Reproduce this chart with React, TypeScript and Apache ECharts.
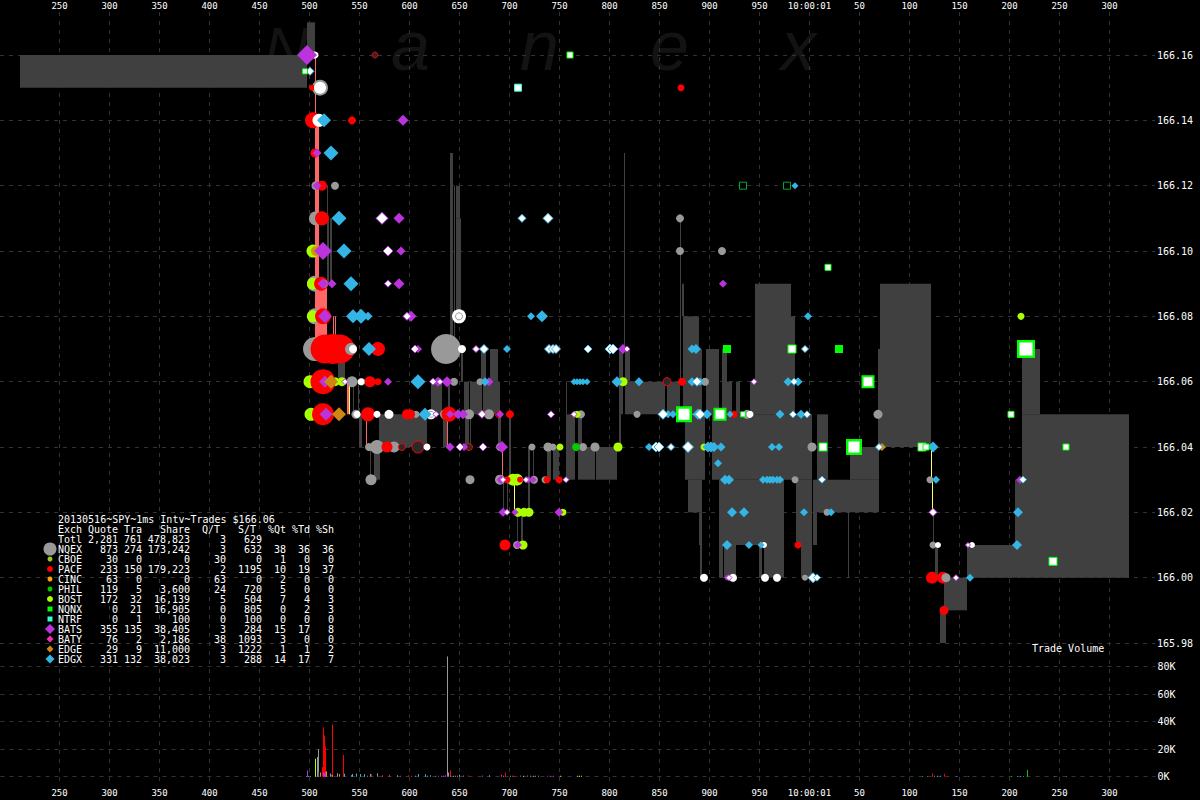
import React, { useEffect, useRef } from "react";
import * as echarts from "echarts";

const MONO = '"DejaVu Sans Mono", monospace';
const C = { nqex: "#999999", pacf: "#ff0000", bost: "#aaff00", phil: "#00cc00", cinc: "#cc9900", bats: "#bb33dd", baty: "#ee33aa", edge: "#cc8811", edgx: "#33b5e5", nqnx: "#00ff00", ntrf: "#33ffcc", spread: "#404040", crossed: "#ff6666", locked: "#ffff66" };

// ---- table
const tableTitle = "20130516~SPY~1ms Intv~Trades $166.06";
const headerLabels = ["Exch", "Quote", "Tra", "Share", "Q/T", "S/T", "%Qt", "%Td", "%Sh"];
const totalRow = ["Totl", "2,281", "761", "478,823", "3", "629"];
const exchanges = ["NQEX", "CBOE", "PACF", "CINC", "PHIL", "BOST", "NQNX", "NTRF", "BATS", "BATY", "EDGE", "EDGX"];
const quotes = ["873", "30", "233", "63", "119", "172", "0", "0", "355", "76", "29", "331"];
const trades = ["274", "0", "150", "0", "5", "32", "21", "1", "135", "2", "9", "132"];
const shares = ["173,242", "0", "179,223", "0", "3,600", "16,139", "16,905", "100", "38,405", "2,186", "11,000", "38,023"];
const quoteTrade = ["3", "30", "2", "63", "24", "5", "0", "0", "3", "38", "3", "3"];
const sharesTrade = ["632", "0", "1195", "0", "720", "504", "805", "100", "284", "1093", "1222", "288"];
const pctQuotes = ["38", "1", "10", "2", "5", "7", "0", "0", "15", "3", "1", "14"];
const pctTrades = ["36", "0", "19", "0", "0", "4", "2", "0", "17", "0", "1", "17"];
const pctShares = ["36", "0", "37", "0", "0", "3", "3", "0", "8", "0", "2", "7"];

// ---- spread boxes: [start ms, end ms, low, high]
const spreadBoxes = [
  [210,497,166.15,166.16],[497,505,166.16,166.17],[517,518,166.11,166.12],[517,519,166.09,166.11],[520,522,166.09,166.11],
  [528,535,166.06,166.07],[543,544,166.05,166.06],[548,549,166.05,166.06],[549,552,166.04,166.05],[564,570,166.03,166.04],
  [560,561,166.03,166.04],[569,617,166.04,166.05],[621,632,166.05,166.06],[633,637,166.04,166.05],[638,640,166.05,166.06],
  [640,643,166.07,166.13],[644,645,166.07,166.12],[646,650,166.11,166.12],[646,651,166.08,166.11],[651,653,166.06,166.07],
  [654,659,166.05,166.06],[660,672,166.05,166.06],[673,690,166.05,166.06],[671,676,166.06,166.07],[680,688,166.06,166.07],
  [655,659,166.04,166.05],[660,661,166.04,166.05],[688,691,166.04,166.05],[699,701,166.03,166.05],[693,694,166.02,166.03],
  [697,698,166.02,166.03],[707,708,166.01,166.02],[711,713,166.01,166.02],[718,720,166.02,166.04],[723,724,166.03,166.04],
  [737,741,166.03,166.04],[743,749,166.03,166.04],[756,757,166.05,166.06],[756,765,166.03,166.05],[768,772,166.04,166.05],
  [768,780,166.03,166.04],[780,785,166.03,166.04],[786,807,166.03,166.04],[809,813,166.06,166.07],[815,820,166.06,166.07],
  [809,813,166.05,166.06],[815,855,166.05,166.06],[857,870,166.05,166.06],[809,811,166.04,166.05],[814,815,166.07,166.13],
  [870,871,166.06,166.11],[872,874,166.08,166.09],[873,889,166.07,166.08],[873,892,166.05,166.07],[896,909,166.05,166.07],
  [912,917,166.05,166.07],[917,922,166.05,166.06],[926,930,166.05,166.06],[940,945,166.05,166.06],[945,981,166.05,166.09],
  [981,985,166.05,166.08],[902,1002,166.03,166.05],[875,895,166.03,166.05],[878,892,166.02,166.03],[889,892,166.01,166.02],
  [890,892,166.00,166.01],[909,974,166.01,166.03],[909,913,166.00,166.01],[914,926,166.00,166.01],[949,952,166.00,166.01],
  [954,974,166.00,166.01],[986,1002,166.01,166.03],[991,1002,166.00,166.01],[1003,1007,166.01,166.03],[1007,1018,166.03,166.05],
  [1007,1069,166.02,166.03],[1040,1069,166.03,166.04],[1038,1039,166.00,166.02],[1070,1121,166.04,166.09],[1068,1070,166.04,166.07],
  [1125,1128,166.00,166.01],[1134,1157,165.99,166.00],[1130,1136,165.98,165.99],[1157,1205,166.00,166.01],[1205,1212,166.00,166.03],
  [1212,1230,166.05,166.07],[1212,1319,166.00,166.05],[1123,1124,166.01,166.02],
];
const crossedBoxes = [
  [505,506,166.14,166.16],[505,509,166.09,166.14],[505,517,166.073,166.09],[523,524,166.073,166.08],[525,526,166.073,166.08],
  [537,539,166.05,166.06],[556,557,166.04,166.05],[637,638,166.04,166.05],[692,693,166.03,166.04],
];
const lockedBoxes = [[539,540,166.05,166.06],[704,705,166.02,166.03],[1121,1122,166.03,166.04],[1122,1123,166.02,166.03]];

// ---- marks: [ms, price, size]
const nqexMarks = [
  [510,166.15,16],[506,166.12,9],[525,166.12,8],[506,166.11,14],[870,166.11,8],[870,166.10,8],[912,166.10,8],[505,166.09,16],[505,166.08,16],
  [505,166.07,24],[636,166.07,30],[542,166.06,11],[552,166.06,7],[644,166.06,8],[670,166.06,7],[895,166.06,8],
  [546,166.05,9],[606,166.05,7],[635,166.05,10],[659,166.05,10],[771,166.05,8],[827,166.05,7],[937,166.05,9],[1068,166.05,9],
  [559,166.04,8],[567,166.04,14],[584,166.04,11],[690,166.04,8],[722,166.04,7],[738,166.04,9],[743,166.04,7],[773,166.04,8],[785,166.04,9],[1002,166.04,9],
  [561,166.03,11],[660,166.03,9],[690,166.03,10],[724,166.03,8],[735,166.03,7],[985,166.03,7],[1120,166.03,7],[1017,166.02,7],[707,166.01,8],[1123,166.01,7],[995,166.00,6],
];
const bostMarks = [
  [503,166.10,13],[503,166.09,12],[503,166.08,12],[500,166.06,13],[525,166.06,9],[532,166.06,9],[813,166.06,9],[501,166.05,13],[767,166.05,7],
  [808,166.04,9],[750,166.04,7],[894,166.04,7],[703,166.03,12],[707,166.03,12],[708,166.02,9],[714,166.02,9],[719,166.02,9],[753,166.02,7],[713,166.01,9],[1211,166.08,7],
];
const philMarks = [[766,166.04,8]];
const cincMarks = [[506,166.10,10]];
const pacfMarks = [
  [503,166.16,8],[502,166.15,6],[871,166.15,7],[503,166.14,16],[542,166.14,8],[505,166.13,9],[512,166.12,10],[512,166.11,14],[511,166.09,14],[542,166.09,7],[513,166.08,16],
  [515,166.07,29],[523,166.07,30],[530,166.07,29],[533,166.07,24],[568,166.07,14],[513,166.06,25],[560,166.06,11],[568,166.06,7],[675,166.06,6],[872,166.06,8],
  [513,166.05,22],[558,166.05,14],[597,166.05,10],[600,166.05,10],[639,166.05,15],[700,166.05,8],[913,166.05,7],[924,166.05,7],[577,166.04,11],
  [697,166.03,7],[710,166.03,6],[737,166.03,7],[749,166.03,7],[695,166.01,11],[988,166.01,7],[1122,166.00,12],[1133,166.00,12],[1134,165.99,9],
];
const pacfRings = [[565,166.16,7],[857,166.06,9],[689,166.05,8],[592,166.04,8],[608,166.04,13],[659,166.04,8]];
const nqexTopMarks = [[541,166.07,12],[514,166.09,8],[1136,166.00,9],[679,166.05,10]];
const batsMarks = [
  [497,166.16,20],[593,166.14,11],[507,166.13,9],[507,166.12,9],[589,166.11,11],[513,166.10,18],[591,166.10,9],[513,166.09,11],[522,166.09,9],[589,166.09,11],[913,166.09,8],
  [515,166.08,14],[601,166.08,11],[608,166.07,8],[813,166.07,10],[515,166.06,12],[578,166.06,8],[628,166.06,10],[637,166.06,11],[679,166.06,9],
  [516,166.05,13],[640,166.05,8],[648,166.05,10],[653,166.05,10],[690,166.05,8],[640,166.04,9],[654,166.04,8],[692,166.04,12],[691,166.03,9],[718,166.03,7],[723,166.03,7],
  [693,166.02,9],[705,166.02,7],[749,166.02,9],[708,166.01,8],[917,166.00,6],[1210,166.03,8],
];
const edgxMarks = [
  [514,166.14,14],[521,166.13,15],[985,166.12,7],[529,166.11,15],[534,166.10,15],[541,166.09,15],[543,166.08,14],[551,166.08,15],[558,166.08,9],[721,166.08,8],[732,166.08,12],[998,166.08,8],
  [559,166.07,14],[697,166.07,8],[882,166.07,9],[886,166.07,10],[608,166.06,15],[675,166.06,9],[764,166.06,7],[767,166.06,7],[770,166.06,7],[773,166.06,7],[777,166.06,7],[807,166.06,11],[829,166.06,9],[882,166.06,9],[890,166.06,8],[978,166.06,9],[988,166.06,9],
  [615,166.05,13],[858,166.05,8],[863,166.05,8],[888,166.05,11],[897,166.05,10],[920,166.05,7],[970,166.05,9],[991,166.05,9],
  [839,166.04,8],[898,166.04,11],[901,166.04,11],[904,166.04,10],[911,166.04,9],[962,166.04,8],[969,166.04,8],[1123,166.04,11],[908,166.035,8],
  [915,166.03,10],[919,166.03,10],[953,166.03,8],[957,166.03,8],[960,166.03,8],[963,166.03,8],[967,166.03,8],[970,166.03,8],[1126,166.03,8],
  [922,166.02,10],[934,166.02,10],[994,166.02,8],[1021,166.02,8],[1208,166.02,10],[917,166.01,10],[939,166.01,8],[951,166.01,7],[1207,166.01,10],[1160,166.00,8],
];
const edgeMarks = [[521,166.06,14],[529,166.05,14],[1072,166.04,8]];
const whiteBatsMarks = [
  [572,166.11,13],[578,166.10,11],[578,166.09,8],[597,166.08,9],[605,166.07,9],[666,166.07,8],[817,166.07,7],[535,166.06,7],[623,166.06,8],[630,166.06,7],[944,166.06,7],
  [672,166.05,9],[626,166.05,7],[741,166.05,8],[764,166.05,7],[650,166.04,9],[673,166.04,9],[693,166.03,7],[716,166.03,7],[756,166.03,7],[697,166.02,7],[1123,166.02,9],[1146,166.00,7],[919,166.00,7],[1158,166.01,6],
];
const whiteEdgxMarks = [
  [500,166.155,9],[712,166.11,9],[738,166.11,11],[674,166.07,10],[739,166.07,10],[743,166.07,10],[746,166.07,10],[778,166.07,9],[800,166.07,11],[803,166.07,11],[995,166.07,8],[887,166.06,10],[984,166.06,8],
  [853,166.05,11],[875,166.05,10],[878,166.05,10],[890,166.05,11],[983,166.05,8],[997,166.05,8],[846,166.04,11],[849,166.04,11],[861,166.04,8],[878,166.04,12],[1069,166.04,8],[1012,166.03,8],[1213,166.03,8],[1003,166.00,11],[1007,166.00,8],
];
const whiteDots = [
  [505,166.16,7],[510,166.15,12],[509,166.14,13],[649,166.08,14],[543,166.07,8],[652,166.07,8],[551,166.06,7],[621,166.05,10],[547,166.05,7],[567,166.05,7],[579,166.05,9],[617,166.04,7],[940,166.05,7],[954,166.01,6],[1128,166.01,6],[1162,166.01,6],[894,166.00,8],[923,166.00,8],[955,166.00,8],[967,166.00,8],
];
const whiteDotRings = [[649,166.08,8],[621,166.05,7]];
const nqnxWhiteSquares = [
  [760,166.16,7],[495,166.155,6],[1018,166.095,7],[982,166.07,9],[1058,166.06,13],[874,166.05,16],[910,166.05,13],[933,166.05,6],[1201,166.05,7],[1013,166.04,9],[1044,166.04,16],[1112,166.04,9],[1116,166.04,7],[1256,166.04,7],[1216,166.07,18],[1243,166.005,9],
];
const ntrfWhiteSquares = [[708,166.15,8]];
const nqnxSolidSquares = [[917,166.07,8],[1029,166.07,8]];
const nqnxDimSquares = [[933,166.12,8],[977,166.12,8]];

// ---- volume: [ms, shares]
const volNqex = [[507,14300],[508,20000],[527,2500],[542,2000],[554,1700],[567,2500],[587,1000],[620,1000],[637,87500],[638,3000],[643,700],[645,700],[647,700],[649,1500],[693,700],[700,700],[720,700],[723,700],[725,700]];
const volPacf = [[505,800],[512,7000],[513,36000],[514,30000],[515,22000],[521,1500],[522,38000],[533,16000],[561,2000],[579,1500],[598,1000],[640,4500],[658,800],[695,3000],[702,700],[1122,2500],[1134,2200]];
const volBost = [[505,13000],[713,700],[750,700],[767,700],[769,700],[771,700]];
const volPhil = [[508,3500],[1112,600],[1117,600],[1201,600],[1217,4800],[1244,600],[1256,600]];
const volCinc = [[508,1200],[510,3000],[516,4000],[522,1200],[529,2000]];
const volBats = [[497,4500],[508,2500],[513,3000],[514,2500],[515,3500],[572,1000],[579,800],[590,700],[601,700],[625,700],[628,700],[631,700],[633,700],[635,1000],[637,700],[640,700],[653,800],[672,800],[691,1400],[703,700],[710,800],[717,800],[737,700],[740,700],[743,700],[1146,500],[1158,500]];
const volEdgx = [[496,600],[498,600],[500,600],[520,2300],[534,2200],[541,1000],[546,2300],[550,2000],[557,700],[560,2000],[605,700],[608,2000],[615,1800],[617,700],[679,1000],[728,700],[1124,700],[1127,700],[1130,700],[1207,600],[1210,600],[1213,600]];

const priceLabelTop = 166.165;
const xLabel = (v: number) => (v === 1000 ? "10:00:01" : String(v > 1000 ? v - 1000 : v));

const rowY = (i: number) => 549 + i * 10;
const rowColors = [C.nqex, "#99cc22", C.pacf, "#ffa500", C.phil, C.bost, C.nqnx, C.ntrf, C.bats, C.baty, C.edge, C.edgx];
const iconKinds = ["circle", "circle", "circle", "circle", "circle", "circle", "rect", "rect", "diamond", "diamond", "diamond", "diamond"];
const iconSizes = [6.5, 2.5, 3, 2.5, 2.5, 3, 2.5, 2.5, 5, 3.5, 3.5, 4.5];

function txt(text: string, x: number, y: number, align = "left") {
  return { type: "text", z: 100, x, y, silent: true, style: { text, fill: "#ffffff", font: `10px ${MONO}`, textAlign: align, textVerticalAlign: "middle" } };
}
function buildTable() {
  const out: any[] = [txt(tableTitle, 58, 519)];
  const heads = [58, 88, 124, 160, 202, 238, 268, 292, 316];
  headerLabels.forEach((h, i) => out.push(txt(h, heads[i], 529)));
  const ends = [118, 142, 190, 226, 262, 286, 310, 334];
  out.push(txt(totalRow[0], 58, 539));
  totalRow.slice(1).forEach((v, i) => out.push(txt(v, ends[i], 539, "right")));
  const cols = [quotes, trades, shares, quoteTrade, sharesTrade, pctQuotes, pctTrades, pctShares];
  exchanges.forEach((e, r) => {
    const y = rowY(r);
    out.push(txt(e, 58, y));
    cols.forEach((c, i) => out.push(txt(c[r], ends[i], y, "right")));
    const s = iconSizes[r];
    const fill = rowColors[r];
    if (iconKinds[r] === "circle") out.push({ type: "circle", z: 100, shape: { cx: 50, cy: y, r: s }, style: { fill } });
    else if (iconKinds[r] === "rect") out.push({ type: "rect", z: 100, shape: { x: 50 - s, y: y - s, width: 2 * s, height: 2 * s }, style: { fill } });
    else out.push({ type: "polygon", z: 100, shape: { points: [[50, y - s], [50 + s, y], [50, y + s], [50 - s, y]] }, style: { fill } });
  });
  return out;
}
const watermark = [["N", 264, 62, 48], ["a", 391, 70, 46], ["n", 520, 70, 46], ["e", 650, 70, 46], ["x", 781, 70, 46]] as const;
function buildWatermark() {
  return watermark.map(([t, x, size, y]) => ({
    type: "text", z: 0, x, y, silent: true,
    style: { text: t, fill: "#131313", font: `italic ${size}px "Liberation Sans", sans-serif`, lineHeight: 48, textAlign: "left", textVerticalAlign: "middle" },
  }));
}

function boxes(name: string, data: number[][], fill: string, z: number) {
  return {
    type: "custom", name, xAxisIndex: 2, yAxisIndex: 1, z, silent: true, data,
    renderItem: (_: any, api: any) => {
      const a = api.coord([api.value(0), api.value(3)]);
      const b = api.coord([api.value(1), api.value(2)]);
      return { type: "rect", shape: { x: a[0], y: a[1], width: b[0] - a[0], height: b[1] - a[1] }, style: { fill } };
    },
  };
}
function marks(name: string, data: number[][], symbol: string, fill: string, z: number, border?: string, scaleBorder = false) {
  return {
    type: "scatter", name, xAxisIndex: 2, yAxisIndex: 1, z, silent: true, symbol, clip: false,
    data: data.map((d) => {
      const bw = border ? (scaleBorder && d[2] >= 12 ? (d[2] >= 16 ? 2.5 : 2) : 1) : 0;
      return { value: d, symbolSize: d[2] - bw, itemStyle: { color: fill, borderColor: border ?? fill, borderWidth: bw, opacity: 1 } };
    }),
  };
}
function vol(name: string, data: number[][], color: string) {
  return { type: "bar", name, stack: "vol", xAxisIndex: 3, yAxisIndex: 2, barWidth: 1, silent: true, z: 3, itemStyle: { color }, data };
}

export default function App() {
  const ref = useRef<HTMLDivElement>(null);
  useEffect(() => {
    const chart = echarts.init(ref.current!, null, { renderer: "svg" });
    const dash = { color: "#333333", type: [4, 5] as any, width: 1 };
    const label = { color: "#ffffff", fontFamily: MONO };
    chart.setOption({
      animation: false,
      backgroundColor: "#000000",
      grid: [
        { left: 59.5, width: 1050, top: 12, height: 774, outerBoundsMode: "none" },
        { left: 0, width: 1155, top: 22.35, height: 620.65, outerBoundsMode: "none" },
        { left: 0.5, width: 1155, top: 639.2, height: 137.5, outerBoundsMode: "none" },
      ],
      xAxis: [
        { gridIndex: 0, type: "value", position: "top", min: 250, max: 1300, interval: 50, axisLine: { show: false }, axisTick: { show: false }, splitLine: { show: true, lineStyle: dash }, axisLabel: { ...label, fontSize: 9, margin: 2, formatter: xLabel } },
        { gridIndex: 0, type: "value", position: "bottom", min: 250, max: 1300, interval: 50, axisLine: { show: false }, axisTick: { show: false }, splitLine: { show: false }, axisLabel: { ...label, fontSize: 9, margin: 2, formatter: xLabel } },
        { gridIndex: 1, type: "value", show: false, min: 190, max: 1345 },
        { gridIndex: 2, type: "value", show: false, min: 190, max: 1345 },
      ],
      yAxis: [
        { gridIndex: 0, type: "value", show: false, min: 0, max: 1 },
        { gridIndex: 1, type: "value", position: "right", min: 165.98, max: 166.17, interval: 0.02, axisLine: { show: false }, axisTick: { show: false }, splitLine: { show: true, showMaxLine: false, lineStyle: dash }, axisLabel: { ...label, fontSize: 10, margin: 2, formatter: (v: number) => (v > priceLabelTop ? "" : v.toFixed(2)) } },
        { gridIndex: 2, type: "value", position: "right", min: 0, max: 100000, interval: 20000, axisLine: { show: false }, axisTick: { show: false }, splitLine: { show: true, showMaxLine: false, lineStyle: dash }, axisLabel: { ...label, fontSize: 10, margin: 2, formatter: (v: number) => (v >= 100000 ? "" : `${v / 1000}K`) } },
      ],
      graphic: { elements: [...buildWatermark(), ...buildTable(), { type: "text", z: 100, x: 1032, y: 648, silent: true, style: { text: "Trade Volume", fill: "#ffffff", font: `10px ${MONO}`, textVerticalAlign: "middle" } }] },
      series: [
        boxes("Spread", spreadBoxes, C.spread, 2),
        boxes("Crossed", crossedBoxes, C.crossed, 3),
        boxes("Locked", lockedBoxes, C.locked, 3),
        marks("NQEX", nqexMarks, "circle", C.nqex, 4),
        marks("BOST", bostMarks, "circle", C.bost, 5),
        marks("PHIL", philMarks, "circle", C.phil, 5),
        marks("CINC", cincMarks, "circle", C.cinc, 5),
        marks("PACF", pacfMarks, "circle", C.pacf, 6),
        marks("PACF ring", pacfRings, "circle", "#2a2a2a", 6, C.pacf),
        marks("NQEX top", nqexTopMarks, "circle", C.nqex, 7),
        marks("White", whiteDots, "circle", "#ffffff", 7.5),
        marks("White ring", whiteDotRings, "circle", "#ffffff", 7.5, C.nqex),
        marks("BATS", batsMarks, "diamond", C.bats, 8),
        marks("EDGX", edgxMarks, "diamond", C.edgx, 8),
        marks("EDGE", edgeMarks, "diamond", C.edge, 8),
        marks("BATS white", whiteBatsMarks, "diamond", "#ffffff", 9, C.bats),
        marks("EDGX white", whiteEdgxMarks, "diamond", "#ffffff", 9, C.edgx),
        marks("NQNX white", nqnxWhiteSquares, "rect", "#ffffff", 11, C.nqnx, true),
        marks("NTRF white", ntrfWhiteSquares, "rect", "#ffffff", 11, C.ntrf),
        marks("NQNX", nqnxSolidSquares, "rect", C.nqnx, 11),
        marks("NQNX dim", nqnxDimSquares, "rect", "#000000", 11, "#00aa33"),
        vol("NQEX vol", volNqex, C.nqex),
        vol("PACF vol", volPacf, C.pacf),
        vol("BOST vol", volBost, C.bost),
        vol("PHIL vol", volPhil, C.phil),
        vol("CINC vol", volCinc, "#ee8811"),
        vol("BATS vol", volBats, C.bats),
        vol("EDGX vol", volEdgx, C.edgx),
      ],
    });
    return () => chart.dispose();
  }, []);
  return <div ref={ref} style={{ position: "absolute", left: 0, top: 0, width: 1200, height: 800 }} />;
}
